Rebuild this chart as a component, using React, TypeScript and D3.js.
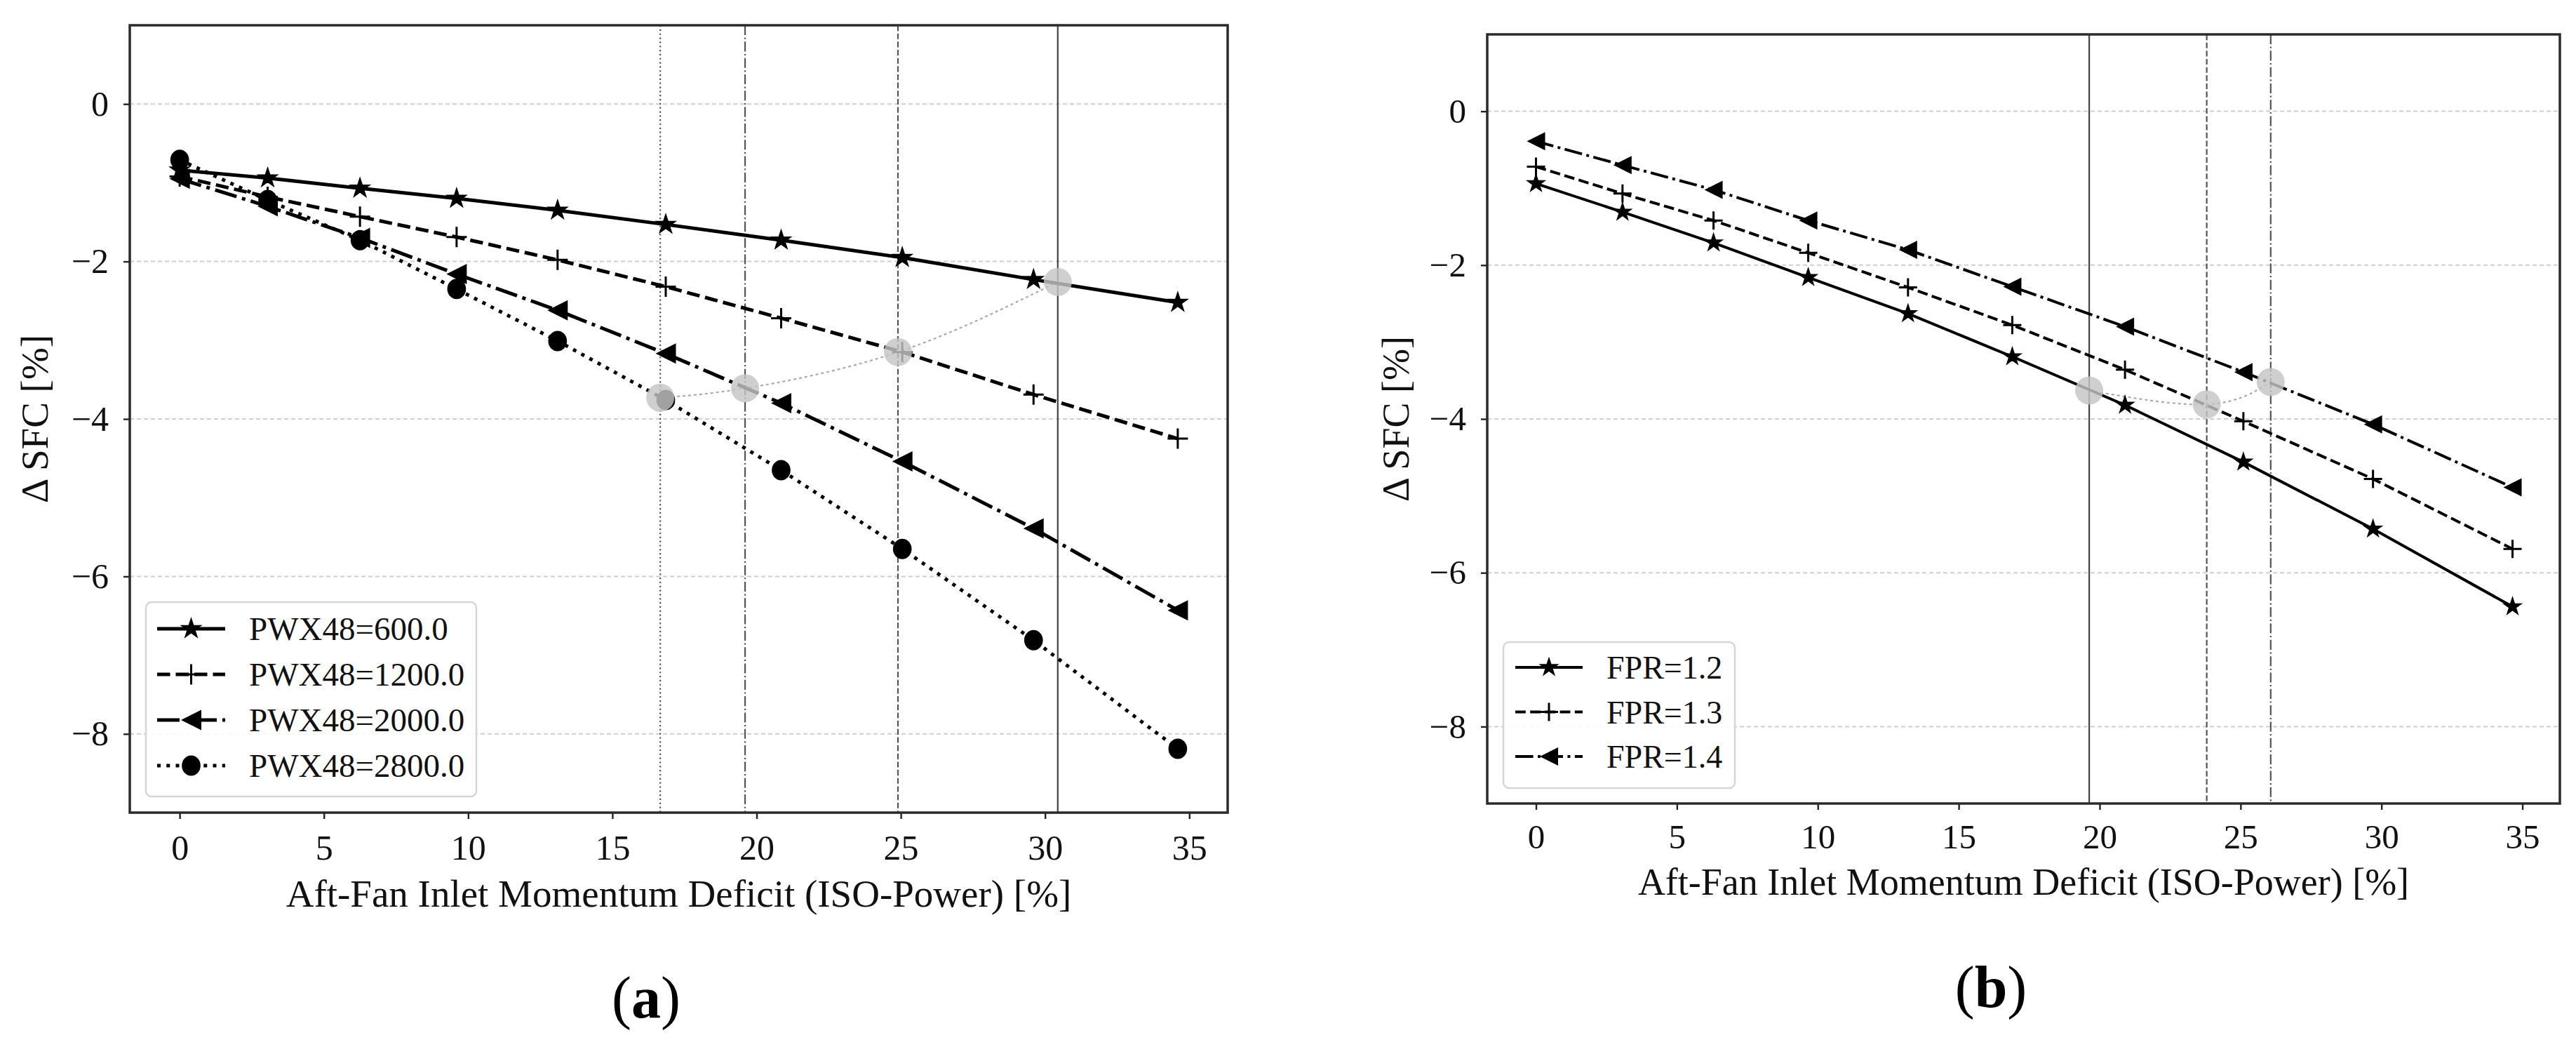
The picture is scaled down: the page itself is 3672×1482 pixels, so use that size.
import { useEffect, useRef } from "react";
import * as d3 from "d3";

const WIDTH = 3672;
const HEIGHT = 1482;

// ---- panel (a): PWX48 sweep ----
const deficitA = [0, 3.05, 6.25, 9.6, 13.1, 16.85, 20.85, 25.05, 29.6, 34.6];
const pwx600 = [-0.84, -0.94, -1.07, -1.2, -1.35, -1.53, -1.73, -1.95, -2.23, -2.52];
const pwx1200 = [-0.92, -1.18, -1.43, -1.69, -1.98, -2.32, -2.72, -3.15, -3.69, -4.25];
const pwx2000 = [-0.95, -1.3, -1.7, -2.16, -2.62, -3.17, -3.8, -4.54, -5.39, -6.43];
const pwx2800 = [-0.71, -1.22, -1.73, -2.35, -3.01, -3.76, -4.65, -5.65, -6.81, -8.19];
const labelsA = ["PWX48=600.0", "PWX48=1200.0", "PWX48=2000.0", "PWX48=2800.0"];
const optimumXA = [16.66, 19.6, 24.9, 30.44];
const optimumYA = [-3.73, -3.61, -3.15, -2.26];

// ---- panel (b): FPR sweep ----
const deficitB = [0, 3.07, 6.3, 9.66, 13.2, 16.9, 20.9, 25.1, 29.7, 34.65];
const fpr12 = [-0.94, -1.31, -1.71, -2.16, -2.63, -3.19, -3.82, -4.56, -5.43, -6.44];
const fpr13 = [-0.72, -1.07, -1.42, -1.84, -2.29, -2.78, -3.36, -4.03, -4.78, -5.69];
const fpr14 = [-0.39, -0.7, -1.02, -1.42, -1.8, -2.28, -2.8, -3.39, -4.07, -4.89];
const labelsB = ["FPR=1.2", "FPR=1.3", "FPR=1.4"];
const optimumXB = [19.63, 23.8, 26.07];
const optimumYB = [-3.63, -3.81, -3.52];

const xTicks = [0, 5, 10, 15, 20, 25, 30, 35];
const yTicks = [0, -2, -4, -6, -8];
const xDomain: [number, number] = [-1.73, 36.33];
const yDomain: [number, number] = [-9, 1];

const X_LABEL = "Aft-Fan Inlet Momentum Deficit (ISO-Power) [%]";
const Y_LABEL = "\u0394 SFC [%]";
const FONT = "'Liberation Serif', 'Times New Roman', serif";

type LineStyle = "solid" | "dashed" | "dashdot" | "dotted";
type Marker = "star" | "plus" | "tri" | "circle";

type Series = { label: string; values: number[]; style: LineStyle; marker: Marker };

type Panel = {
  tag: string;
  xs: number[];
  series: Series[];
  optX: number[];
  optY: number[];
  optStyles: LineStyle[];
  frame: { left: number; top: number; right: number; bottom: number };
  lw: number;
  mk: number;
  tickFont: number;
  labelFont: number;
  legendFont: number;
  xPad: number;
  xLabelY: number;
  yLabelX: number;
  tagX: number;
  tagY: number;
  legend: { x: number; y: number; w: number; h: number; row0: number; step: number; l0: number; l1: number; tx: number };
};

function dashes(style: LineStyle, lw: number): string | null {
  if (style === "dashed") return [3.7, 1.6].map((d) => d * lw).join(" ");
  if (style === "dashdot") return [6.4, 1.6, 1, 1.6].map((d) => d * lw).join(" ");
  if (style === "dotted") return [1, 1.65].map((d) => d * lw).join(" ");
  return null;
}

function drawMarker(
  g: d3.Selection<SVGGElement, unknown, null, undefined>,
  kind: Marker,
  cx: number,
  cy: number,
  r: number
) {
  if (kind === "star") {
    const area = (r * r) / 0.8908;
    g.append("path")
      .attr("d", d3.symbol(d3.symbolStar, area)() as string)
      .attr("transform", `translate(${cx},${cy})`)
      .attr("fill", "#000")
      .attr("stroke", "#000")
      .attr("stroke-width", 1.5);
  } else if (kind === "plus") {
    g.append("path")
      .attr("d", `M${cx - r},${cy}H${cx + r}M${cx},${cy - r}V${cy + r}`)
      .attr("stroke", "#000")
      .attr("stroke-width", 3)
      .attr("fill", "none");
  } else if (kind === "tri") {
    g.append("path")
      .attr("d", `M${cx - r},${cy}L${cx + r},${cy - r}L${cx + r},${cy + r}Z`)
      .attr("fill", "#000");
  } else {
    g.append("ellipse")
      .attr("cx", cx)
      .attr("cy", cy)
      .attr("rx", r * 0.92)
      .attr("ry", r)
      .attr("fill", "#000");
  }
}

const panels: Panel[] = [
  {
    tag: "a",
    xs: deficitA,
    series: [
      { label: labelsA[0], values: pwx600, style: "solid", marker: "star" },
      { label: labelsA[1], values: pwx1200, style: "dashed", marker: "plus" },
      { label: labelsA[2], values: pwx2000, style: "dashdot", marker: "tri" },
      { label: labelsA[3], values: pwx2800, style: "dotted", marker: "circle" },
    ],
    optX: optimumXA,
    optY: optimumYA,
    optStyles: ["dotted", "dashdot", "dashed", "solid"],
    frame: { left: 185, top: 36, right: 1750, bottom: 1158 },
    lw: 5,
    mk: 14.5,
    tickFont: 50,
    labelFont: 55,
    legendFont: 47,
    xPad: 22,
    xLabelY: 1292,
    yLabelX: 68,
    tagX: 921,
    tagY: 1450,
    legend: { x: 208, y: 858, w: 471, h: 277, row0: 896, step: 65, l0: 224, l1: 321, tx: 355 },
  },
  {
    tag: "b",
    xs: deficitB,
    series: [
      { label: labelsB[0], values: fpr12, style: "solid", marker: "star" },
      { label: labelsB[1], values: fpr13, style: "dashed", marker: "plus" },
      { label: labelsB[2], values: fpr14, style: "dashdot", marker: "tri" },
    ],
    optX: optimumXB,
    optY: optimumYB,
    optStyles: ["solid", "dashed", "dashdot"],
    frame: { left: 2120, top: 49, right: 3649, bottom: 1145 },
    lw: 4,
    mk: 13,
    tickFont: 49,
    labelFont: 54,
    legendFont: 46,
    xPad: 20,
    xLabelY: 1275,
    yLabelX: 2008,
    tagX: 2838,
    tagY: 1435,
    legend: { x: 2143, y: 915, w: 330, h: 208, row0: 951, step: 63.5, l0: 2160, l1: 2256, tx: 2290 },
  },
];

function drawPanel(svg: d3.Selection<SVGSVGElement, unknown, null, undefined>, p: Panel) {
  const { frame } = p;
  const x = d3.scaleLinear().domain(xDomain).range([frame.left, frame.right]);
  const y = d3.scaleLinear().domain(yDomain).range([frame.bottom, frame.top]);
  const g = svg.append("g");

  // horizontal grid
  g.append("g")
    .selectAll("line")
    .data(yTicks)
    .join("line")
    .attr("x1", frame.left)
    .attr("x2", frame.right)
    .attr("y1", (d) => y(d))
    .attr("y2", (d) => y(d))
    .attr("stroke", "#cfcfcf")
    .attr("stroke-width", 2)
    .attr("stroke-dasharray", "6 4");

  // optimum verticals
  p.optX.forEach((ox, i) => {
    const st = p.optStyles[i];
    g.append("line")
      .attr("x1", x(ox))
      .attr("x2", x(ox))
      .attr("y1", frame.top)
      .attr("y2", frame.bottom)
      .attr("stroke", st === "solid" ? "#444" : "#555")
      .attr("stroke-width", 2.2)
      .attr("stroke-dasharray", dashes(st, 2.2));
  });

  // grey trace through the optima
  const optPts = p.optX.map((ox, i) => [ox, p.optY[i]] as [number, number]);
  g.append("path")
    .attr(
      "d",
      d3
        .line<[number, number]>()
        .x((d) => x(d[0]))
        .y((d) => y(d[1]))
        .curve(d3.curveNatural)(optPts) as string
    )
    .attr("fill", "none")
    .attr("stroke", "#aaa")
    .attr("stroke-width", 2.2)
    .attr("stroke-dasharray", "4 4");

  // series lines
  const line = d3
    .line<number>()
    .x((_, i) => x(p.xs[i]))
    .y((d) => y(d));
  p.series.forEach((s) => {
    g.append("path")
      .attr("d", line(s.values) as string)
      .attr("fill", "none")
      .attr("stroke", "#000")
      .attr("stroke-width", p.lw)
      .attr("stroke-dasharray", dashes(s.style, p.lw));
  });
  const mg = g.append("g");
  p.series.forEach((s) => {
    s.values.forEach((v, i) => drawMarker(mg, s.marker, x(p.xs[i]), y(v), p.mk));
  });

  // optimum circles
  g.append("g")
    .selectAll("circle")
    .data(optPts)
    .join("circle")
    .attr("cx", (d) => x(d[0]))
    .attr("cy", (d) => y(d[1]))
    .attr("r", 20)
    .attr("fill", "#c4c4c4")
    .attr("opacity", 0.82);

  // axes
  const fmt = (d: d3.NumberValue) => {
    const n = +d;
    return n < 0 ? `\u2212${-n}` : `${n}`;
  };
  const xAxis = g
    .append("g")
    .attr("transform", `translate(0,${frame.bottom})`)
    .call(d3.axisBottom(x).tickValues(xTicks).tickSize(9).tickPadding(p.xPad).tickFormat(fmt));
  const yAxis = g
    .append("g")
    .attr("transform", `translate(${frame.left},0)`)
    .call(d3.axisLeft(y).tickValues(yTicks).tickSize(9).tickPadding(21).tickFormat(fmt));
  [xAxis, yAxis].forEach((a) => {
    a.select(".domain").remove();
    a.attr("font-family", FONT).attr("font-size", p.tickFont);
    a.selectAll("line").attr("stroke", "#222").attr("stroke-width", 2.4);
    a.selectAll("text").attr("fill", "#111");
  });

  // spines
  g.append("rect")
    .attr("x", frame.left)
    .attr("y", frame.top)
    .attr("width", frame.right - frame.left)
    .attr("height", frame.bottom - frame.top)
    .attr("fill", "none")
    .attr("stroke", "#2a2a2a")
    .attr("stroke-width", 3.5);

  // axis titles
  g.append("text")
    .attr("x", (frame.left + frame.right) / 2)
    .attr("y", p.xLabelY)
    .attr("text-anchor", "middle")
    .attr("font-family", FONT)
    .attr("font-size", p.labelFont)
    .attr("fill", "#111")
    .text(X_LABEL);
  g.append("text")
    .attr("transform", `translate(${p.yLabelX},${(frame.top + frame.bottom) / 2}) rotate(-90)`)
    .attr("text-anchor", "middle")
    .attr("font-family", FONT)
    .attr("font-size", p.labelFont)
    .attr("fill", "#111")
    .text(Y_LABEL);

  // legend
  const L = p.legend;
  const lg = g.append("g");
  lg.append("rect")
    .attr("x", L.x)
    .attr("y", L.y)
    .attr("width", L.w)
    .attr("height", L.h)
    .attr("rx", 8)
    .attr("fill", "#fff")
    .attr("fill-opacity", 0.85)
    .attr("stroke", "#d6d6d6")
    .attr("stroke-width", 2.5);
  p.series.forEach((s, i) => {
    const ry = L.row0 + i * L.step;
    lg.append("line")
      .attr("x1", L.l0)
      .attr("x2", L.l1)
      .attr("y1", ry)
      .attr("y2", ry)
      .attr("stroke", "#000")
      .attr("stroke-width", p.lw)
      .attr("stroke-dasharray", dashes(s.style, p.lw));
    drawMarker(lg, s.marker, (L.l0 + L.l1) / 2, ry, p.mk);
    lg.append("text")
      .attr("x", L.tx)
      .attr("y", ry)
      .attr("dy", "0.35em")
      .attr("font-family", FONT)
      .attr("font-size", p.legendFont)
      .attr("fill", "#111")
      .text(s.label);
  });

  // panel tag
  const t = g
    .append("text")
    .attr("x", p.tagX)
    .attr("y", p.tagY)
    .attr("text-anchor", "middle")
    .attr("font-family", FONT)
    .attr("font-size", 84)
    .attr("fill", "#000");
  t.append("tspan").text("(");
  t.append("tspan").attr("font-weight", "bold").text(p.tag);
  t.append("tspan").text(")");
}

export default function App() {
  const svgRef = useRef<SVGSVGElement>(null);

  useEffect(() => {
    if (!svgRef.current) return;
    const svg = d3.select(svgRef.current);
    svg.selectAll("*").remove();
    panels.forEach((p) => drawPanel(svg, p));
  }, []);

  return (
    <svg
      ref={svgRef}
      width={WIDTH}
      height={HEIGHT}
      style={{ position: "absolute", left: 0, top: 0, background: "#fff" }}
    />
  );
}
